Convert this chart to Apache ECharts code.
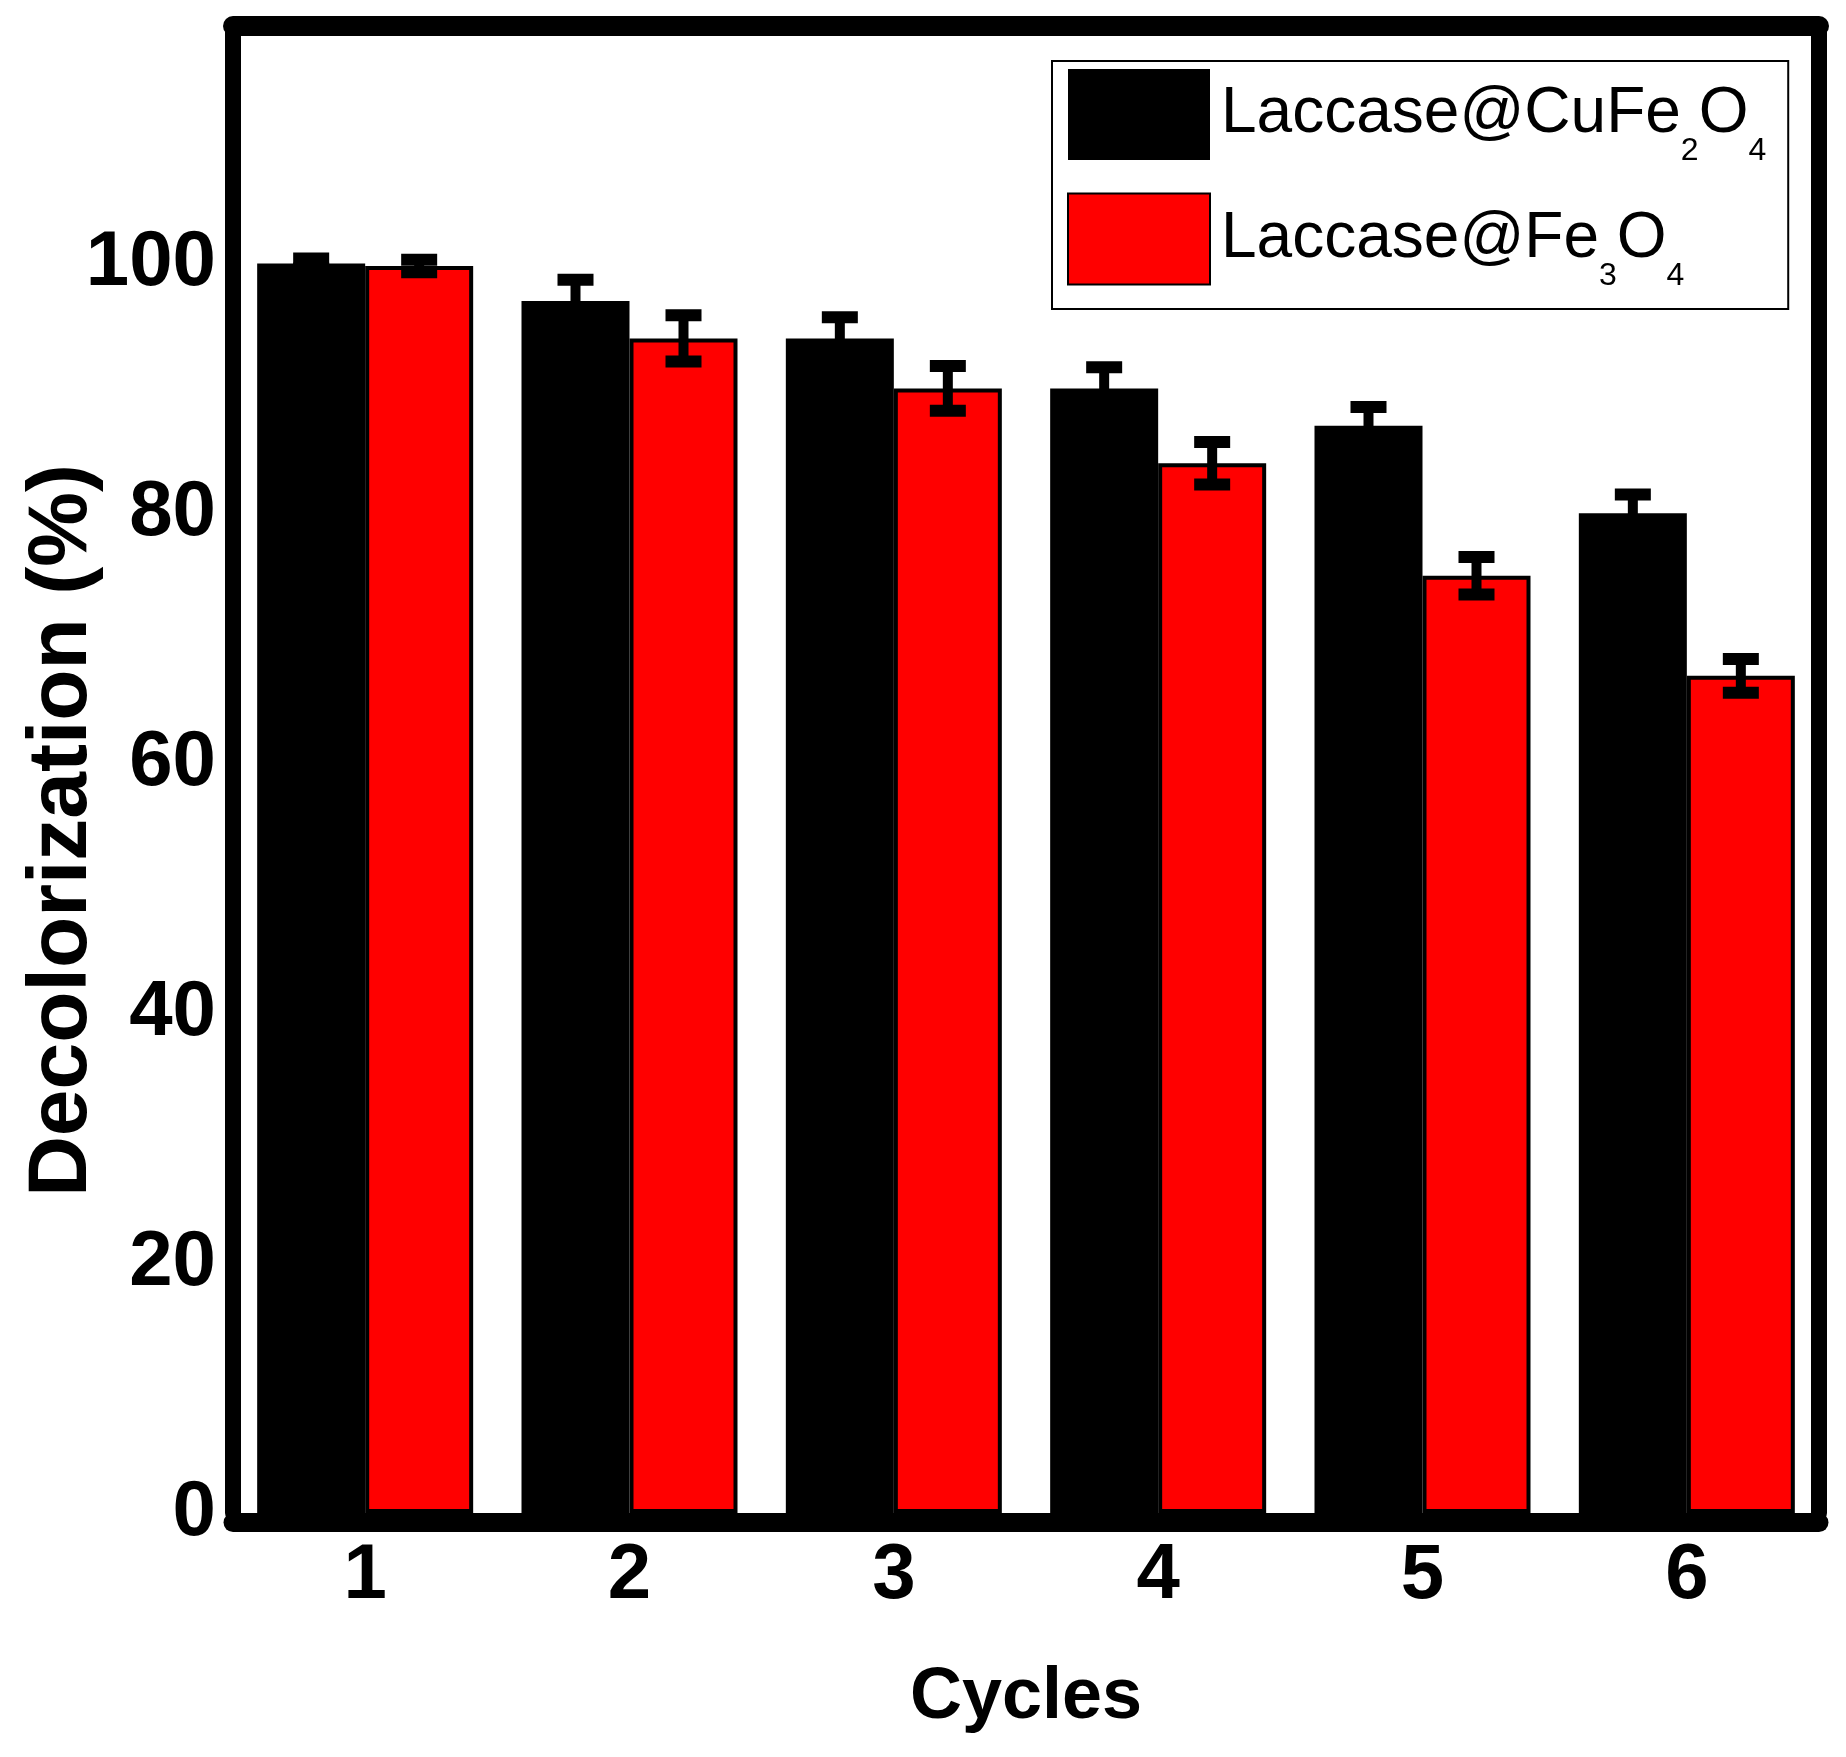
<!DOCTYPE html>
<html>
<head>
<meta charset="utf-8">
<title>Decolorization cycles</title>
<script src="https://cdn.jsdelivr.net/npm/echarts@6/dist/echarts.min.js"></script>
<style>
  html, body { margin: 0; padding: 0; background: #fff; }
  #main { width: 1846px; height: 1757px; }
</style>
</head>
<body>
<div id="main"></div>
<script>
// data
var cycles = ['1', '2', '3', '4', '5', '6'];
var cuFeName = 'Laccase@CuFe2O4';
var feName = 'Laccase@Fe3O4';
var cuFeValues = [100, 97, 94, 90, 87, 80];
var cuFeErrors = [0.4, 1.7, 1.7, 1.7, 1.5, 1.5];
var feValues = [99.8, 94, 90, 84, 75, 67];
var feErrors = [0.5, 1.85, 1.8, 1.7, 1.5, 1.35];
var yTicks = [0, 20, 40, 60, 80, 100];

var barW = 108;
var sans = "'Liberation Sans', Arial, sans-serif";

var chart = echarts.init(document.getElementById('main'), null, { renderer: 'canvas' });

// error bar: stem + two caps, on the bar's own centre
function errRender(sign) {
  return function (params, api) {
    var x = api.value(0), v = api.value(1), e = api.value(2);
    var mid = api.coord([x, v]);
    var hi = api.coord([x, v + e]);
    var lo = api.coord([x, v - e]);
    var cx = mid[0] + sign * barW / 2;
    var st = { fill: '#000' };
    return {
      type: 'group',
      children: [
        { type: 'rect', shape: { x: cx - 5, y: hi[1], width: 10, height: lo[1] - hi[1] }, style: st },
        { type: 'rect', shape: { x: cx - 18, y: hi[1] - 6, width: 36, height: 12 }, style: st },
        { type: 'rect', shape: { x: cx - 18, y: lo[1] - 6, width: 36, height: 12 }, style: st }
      ]
    };
  };
}

function errData(vals, errs) {
  return vals.map(function (v, i) { return [i, v, errs[i]]; });
}

var option = {
  animation: false,
  backgroundColor: '#fff',
  grid: { left: 233, right: 27, top: 26, bottom: 244, outerBoundsMode: 'none' },
  legend: {
    orient: 'vertical',
    left: 1052,
    top: 61,
    padding: [8, 22, 17, 15],
    itemWidth: 142,
    itemHeight: 91,
    itemGap: 25,
    icon: 'rect',
    borderColor: '#000',
    borderWidth: 2,
    data: [cuFeName, feName],
    // chemical formula digits as lowered subscripts
    formatter: function (name) {
      return name.replace(/(\d)/g, '{s|$1}');
    },
    textStyle: {
      fontFamily: sans,
      fontSize: 64,
      lineHeight: 91,
      color: '#000',
      padding: [0, 0, 0, 6],
      rich: {
        s: {
          fontFamily: sans,
          fontSize: 32,
          lineHeight: 32,
          padding: [37, 0, -37, 0],
          color: '#000'
        }
      }
    }
  },
  xAxis: [
    {
      type: 'category',
      data: cycles,
      offset: 9.5,
      name: 'Cycles',
      nameLocation: 'middle',
      nameGap: 140,
      nameMoveOverlap: false,
      nameTextStyle: { fontFamily: sans, fontWeight: 'bold', fontSize: 72, color: '#000' },
      axisLine: { onZero: false, lineStyle: { color: '#000', width: 19 } },
      axisTick: { show: false },
      axisLabel: { margin: 15, fontFamily: sans, fontWeight: 'bold', fontSize: 78, color: '#000' }
    },
    {
      type: 'category',
      data: cycles,
      position: 'top',
      axisLine: { show: true, onZero: false, lineStyle: { color: '#000', width: 20 } },
      axisTick: { show: false },
      axisLabel: { show: false }
    }
  ],
  yAxis: [
    {
      type: 'value',
      min: 0,
      max: 119,
      interval: 20,
      name: 'Decolorization (%)',
      nameLocation: 'middle',
      nameGap: 128,
      nameMoveOverlap: false,
      nameTextStyle: {
        fontFamily: sans,
        fontWeight: 'bold',
        fontSize: 84,
        color: '#000',
        padding: [0, 122, 0, 0]
      },
      axisLine: { show: true, onZero: false, lineStyle: { color: '#000', width: 16 } },
      axisTick: { show: false },
      splitLine: { show: false },
      axisLabel: {
        margin: 17,
        fontFamily: sans,
        fontWeight: 'bold',
        fontSize: 78,
        color: '#000',
        formatter: function (v) { return yTicks.indexOf(v) >= 0 ? String(v) : ''; }
      }
    },
    {
      type: 'value',
      min: 0,
      max: 119,
      interval: 20,
      position: 'right',
      axisLine: { show: true, onZero: false, lineStyle: { color: '#000', width: 16 } },
      axisTick: { show: false },
      splitLine: { show: false },
      axisLabel: { show: false }
    }
  ],
  series: [
    {
      name: cuFeName,
      type: 'bar',
      data: cuFeValues,
      barWidth: barW,
      barGap: '0%',
      itemStyle: { color: '#000000' }
    },
    {
      name: feName,
      type: 'bar',
      data: feValues,
      barWidth: barW,
      barGap: '0%',
      itemStyle: { color: '#ff0000', borderColor: '#000', borderWidth: 4 }
    },
    {
      type: 'custom',
      name: cuFeName + ' err',
      renderItem: errRender(-1),
      data: errData(cuFeValues, cuFeErrors),
      z: 5
    },
    {
      type: 'custom',
      name: feName + ' err',
      renderItem: errRender(1),
      data: errData(feValues, feErrors),
      z: 5
    }
  ]
};

chart.setOption(option);
</script>
</body>
</html>
